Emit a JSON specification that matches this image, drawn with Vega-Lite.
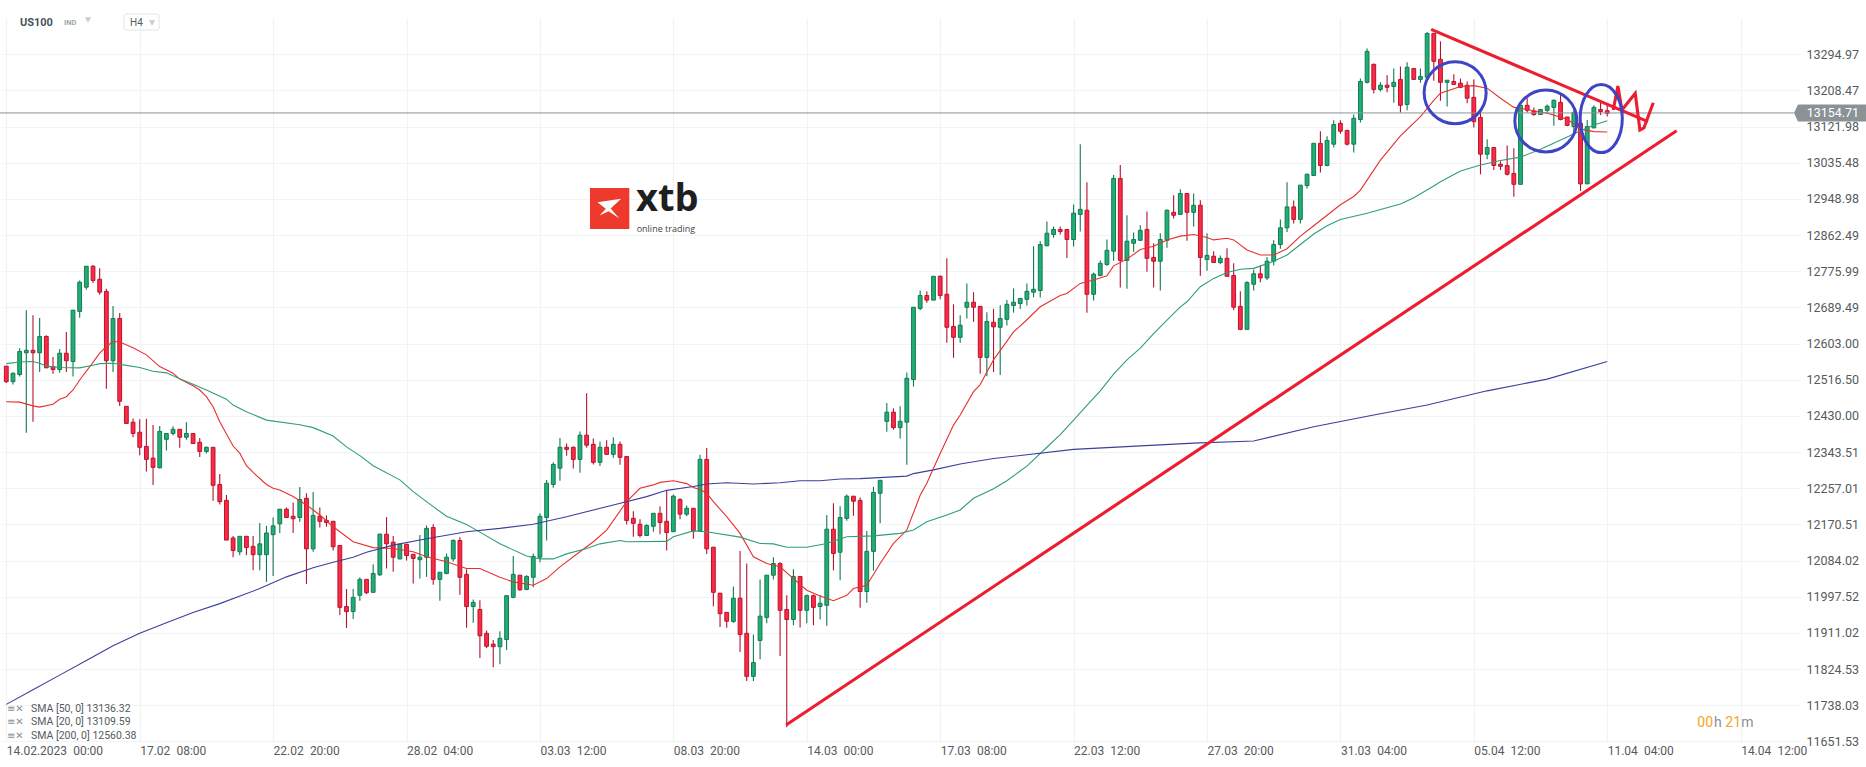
{
"$schema":"https://vega.github.io/schema/vega-lite/v6.json",
"width":1798,"height":724,
"autosize":"none",
"padding":{"left":2,"top":18,"right":66,"bottom":25},
"background":"white",
"config":{"view":{"stroke":null},"font":"Roboto"},
"datasets":{
"candles":[
{"i":0,"o":12549,"h":12549,"l":12509,"c":12512},{"i":1,"o":12512,"h":12534,"l":12505,"c":12532},{"i":2,"o":12529,"h":12592,"l":12524,"c":12584},{"i":3,"o":12581,"h":12683,"l":12390,"c":12587},{"i":4,"o":12587,"h":12671,"l":12416,"c":12581},{"i":5,"o":12581,"h":12664,"l":12535,"c":12620},{"i":6,"o":12620,"h":12623,"l":12545,"c":12545},{"i":7,"o":12548,"h":12571,"l":12531,"c":12541},{"i":8,"o":12541,"h":12590,"l":12533,"c":12580},{"i":9,"o":12580,"h":12631,"l":12535,"c":12562},
{"i":10,"o":12560,"h":12683,"l":12524,"c":12683},{"i":11,"o":12680,"h":12754,"l":12665,"c":12750},{"i":12,"o":12738,"h":12788,"l":12732,"c":12788},{"i":13,"o":12788,"h":12791,"l":12748,"c":12754},{"i":14,"o":12757,"h":12783,"l":12720,"c":12726},{"i":15,"o":12728,"h":12734,"l":12495,"c":12562},{"i":16,"o":12562,"h":12693,"l":12535,"c":12663},{"i":17,"o":12663,"h":12676,"l":12454,"c":12465},{"i":18,"o":12453,"h":12454,"l":12412,"c":12412},{"i":19,"o":12415,"h":12424,"l":12379,"c":12388},
{"i":20,"o":12391,"h":12422,"l":12336,"c":12355},{"i":21,"o":12357,"h":12423,"l":12297,"c":12326},{"i":22,"o":12329,"h":12408,"l":12265,"c":12307},{"i":23,"o":12306,"h":12406,"l":12304,"c":12393},{"i":24,"o":12374,"h":12388,"l":12347,"c":12388},{"i":25,"o":12388,"h":12405,"l":12383,"c":12398},{"i":26,"o":12398,"h":12398,"l":12354,"c":12379},{"i":27,"o":12379,"h":12415,"l":12373,"c":12388},{"i":28,"o":12388,"h":12388,"l":12364,"c":12364},{"i":29,"o":12367,"h":12377,"l":12332,"c":12345},
{"i":30,"o":12345,"h":12357,"l":12340,"c":12355},{"i":31,"o":12355,"h":12355,"l":12227,"c":12264},{"i":32,"o":12266,"h":12291,"l":12218,"c":12225},{"i":33,"o":12228,"h":12241,"l":12133,"c":12133},{"i":34,"o":12138,"h":12143,"l":12092,"c":12108},{"i":35,"o":12105,"h":12142,"l":12097,"c":12142},{"i":36,"o":12142,"h":12142,"l":12097,"c":12115},{"i":37,"o":12118,"h":12143,"l":12061,"c":12098},{"i":38,"o":12098,"h":12174,"l":12061,"c":12124},{"i":39,"o":12098,"h":12167,"l":12033,"c":12150},
{"i":40,"o":12146,"h":12187,"l":12047,"c":12167},{"i":41,"o":12172,"h":12207,"l":12150,"c":12207},{"i":42,"o":12207,"h":12211,"l":12187,"c":12187},{"i":43,"o":12190,"h":12223,"l":12150,"c":12184},{"i":44,"o":12187,"h":12260,"l":12177,"c":12230},{"i":45,"o":12233,"h":12245,"l":12028,"c":12112},{"i":46,"o":12112,"h":12248,"l":12105,"c":12192},{"i":47,"o":12190,"h":12211,"l":12163,"c":12178},{"i":48,"o":12180,"h":12192,"l":12165,"c":12175},{"i":49,"o":12178,"h":12178,"l":12108,"c":12117},
{"i":50,"o":12120,"h":12120,"l":11954,"c":11972},{"i":51,"o":11974,"h":12016,"l":11923,"c":11962},{"i":52,"o":11962,"h":12016,"l":11944,"c":11996},{"i":53,"o":12001,"h":12044,"l":11988,"c":12039},{"i":54,"o":12039,"h":12039,"l":12004,"c":12007},{"i":55,"o":12008,"h":12075,"l":12008,"c":12053},{"i":56,"o":12050,"h":12149,"l":12047,"c":12147},{"i":57,"o":12147,"h":12188,"l":12065,"c":12124},{"i":58,"o":12128,"h":12143,"l":12057,"c":12092},{"i":59,"o":12088,"h":12125,"l":12087,"c":12123},
{"i":60,"o":12123,"h":12123,"l":12084,"c":12096},{"i":61,"o":12099,"h":12099,"l":12029,"c":12089},{"i":62,"o":12086,"h":12145,"l":12041,"c":12092},{"i":63,"o":12092,"h":12168,"l":12045,"c":12161},{"i":64,"o":12163,"h":12171,"l":12026,"c":12039},{"i":65,"o":12039,"h":12056,"l":11988,"c":12056},{"i":66,"o":12053,"h":12101,"l":12051,"c":12092},{"i":67,"o":12088,"h":12135,"l":12082,"c":12132},{"i":68,"o":12132,"h":12140,"l":12002,"c":12044},{"i":69,"o":12051,"h":12063,"l":11923,"c":11974},
{"i":70,"o":11974,"h":11991,"l":11935,"c":11984},{"i":71,"o":11967,"h":11989,"l":11851,"c":11904},{"i":72,"o":11910,"h":11917,"l":11875,"c":11879},{"i":73,"o":11884,"h":11894,"l":11829,"c":11878},{"i":74,"o":11878,"h":11915,"l":11836,"c":11898},{"i":75,"o":11895,"h":12000,"l":11870,"c":12000},{"i":76,"o":11996,"h":12095,"l":11994,"c":12051},{"i":77,"o":12049,"h":12049,"l":12012,"c":12014},{"i":78,"o":12015,"h":12049,"l":12013,"c":12046},{"i":79,"o":12044,"h":12101,"l":12020,"c":12094},
{"i":80,"o":12092,"h":12197,"l":12080,"c":12190},{"i":81,"o":12187,"h":12277,"l":12132,"c":12269},{"i":82,"o":12266,"h":12319,"l":12258,"c":12314},{"i":83,"o":12305,"h":12377,"l":12275,"c":12355},{"i":84,"o":12355,"h":12364,"l":12335,"c":12350},{"i":85,"o":12355,"h":12357,"l":12304,"c":12326},{"i":86,"o":12326,"h":12393,"l":12294,"c":12384},{"i":87,"o":12384,"h":12484,"l":12354,"c":12360},{"i":88,"o":12362,"h":12376,"l":12314,"c":12319},{"i":89,"o":12319,"h":12369,"l":12310,"c":12355},
{"i":90,"o":12355,"h":12372,"l":12338,"c":12338},{"i":91,"o":12338,"h":12379,"l":12330,"c":12362},{"i":92,"o":12362,"h":12369,"l":12313,"c":12331},{"i":93,"o":12333,"h":12333,"l":12170,"c":12180},{"i":94,"o":12185,"h":12202,"l":12141,"c":12173},{"i":95,"o":12171,"h":12183,"l":12139,"c":12144},{"i":96,"o":12144,"h":12171,"l":12143,"c":12168},{"i":97,"o":12166,"h":12197,"l":12153,"c":12197},{"i":98,"o":12197,"h":12214,"l":12147,"c":12175},{"i":99,"o":12178,"h":12252,"l":12108,"c":12151},
{"i":100,"o":12153,"h":12242,"l":12153,"c":12238},{"i":101,"o":12230,"h":12233,"l":12183,"c":12195},{"i":102,"o":12195,"h":12216,"l":12190,"c":12209},{"i":103,"o":12209,"h":12209,"l":12136,"c":12155},{"i":104,"o":12155,"h":12337,"l":12153,"c":12326},{"i":105,"o":12326,"h":12353,"l":12100,"c":12112},{"i":106,"o":12116,"h":12116,"l":11975,"c":12008},{"i":107,"o":12006,"h":12006,"l":11925,"c":11957},{"i":108,"o":11960,"h":11960,"l":11923,"c":11939},{"i":109,"o":11938,"h":12022,"l":11935,"c":11994},
{"i":110,"o":11994,"h":12107,"l":11865,"c":11907},{"i":111,"o":11910,"h":12077,"l":11796,"c":11807},{"i":112,"o":11807,"h":11907,"l":11796,"c":11840},{"i":113,"o":11893,"h":12039,"l":11848,"c":11951},{"i":114,"o":11948,"h":12049,"l":11934,"c":12049},{"i":115,"o":12049,"h":12092,"l":12039,"c":12077},{"i":116,"o":12077,"h":12080,"l":11856,"c":11965},{"i":117,"o":11967,"h":12001,"l":11685,"c":11943},{"i":118,"o":11943,"h":12063,"l":11929,"c":12046},{"i":119,"o":12046,"h":12046,"l":11924,"c":11965},
{"i":120,"o":11965,"h":12003,"l":11934,"c":12000},{"i":121,"o":12000,"h":12003,"l":11929,"c":11972},{"i":122,"o":11974,"h":12001,"l":11943,"c":11982},{"i":123,"o":11977,"h":12193,"l":11928,"c":12159},{"i":124,"o":12159,"h":12221,"l":12061,"c":12101},{"i":125,"o":12104,"h":12214,"l":12037,"c":12187},{"i":126,"o":12185,"h":12242,"l":12179,"c":12238},{"i":127,"o":12238,"h":12238,"l":12191,"c":12226},{"i":128,"o":12228,"h":12235,"l":11971,"c":12010},{"i":129,"o":12010,"h":12155,"l":11983,"c":12106},
{"i":130,"o":12106,"h":12260,"l":12060,"c":12247},{"i":131,"o":12245,"h":12276,"l":12173,"c":12276},{"i":132,"o":12417,"h":12461,"l":12392,"c":12439},{"i":133,"o":12439,"h":12448,"l":12397,"c":12402},{"i":134,"o":12402,"h":12453,"l":12376,"c":12417},{"i":135,"o":12415,"h":12534,"l":12313,"c":12520},{"i":136,"o":12517,"h":12690,"l":12500,"c":12690},{"i":137,"o":12687,"h":12730,"l":12683,"c":12718},{"i":138,"o":12718,"h":12728,"l":12701,"c":12707},{"i":139,"o":12707,"h":12764,"l":12707,"c":12764},
{"i":140,"o":12764,"h":12766,"l":12709,"c":12718},{"i":141,"o":12721,"h":12807,"l":12605,"c":12642},{"i":142,"o":12644,"h":12697,"l":12569,"c":12618},{"i":143,"o":12618,"h":12671,"l":12605,"c":12647},{"i":144,"o":12690,"h":12747,"l":12663,"c":12702},{"i":145,"o":12702,"h":12726,"l":12655,"c":12690},{"i":146,"o":12692,"h":12692,"l":12531,"c":12570},{"i":147,"o":12570,"h":12678,"l":12525,"c":12656},{"i":148,"o":12654,"h":12686,"l":12535,"c":12643},{"i":149,"o":12642,"h":12695,"l":12528,"c":12663},
{"i":150,"o":12661,"h":12707,"l":12646,"c":12697},{"i":151,"o":12694,"h":12735,"l":12677,"c":12702},{"i":152,"o":12699,"h":12711,"l":12686,"c":12711},{"i":153,"o":12709,"h":12747,"l":12694,"c":12728},{"i":154,"o":12726,"h":12836,"l":12714,"c":12733},{"i":155,"o":12730,"h":12848,"l":12713,"c":12840},{"i":156,"o":12837,"h":12895,"l":12836,"c":12867},{"i":157,"o":12864,"h":12883,"l":12856,"c":12876},{"i":158,"o":12876,"h":12883,"l":12864,"c":12871},{"i":159,"o":12876,"h":12876,"l":12808,"c":12852},
{"i":160,"o":12852,"h":12936,"l":12835,"c":12915},{"i":161,"o":12912,"h":13080,"l":12871,"c":12924},{"i":162,"o":12922,"h":12989,"l":12677,"c":12721},{"i":163,"o":12721,"h":12773,"l":12706,"c":12769},{"i":164,"o":12766,"h":12802,"l":12764,"c":12795},{"i":165,"o":12792,"h":12852,"l":12789,"c":12826},{"i":166,"o":12824,"h":13006,"l":12801,"c":12998},{"i":167,"o":12998,"h":13030,"l":12737,"c":12802},{"i":168,"o":12802,"h":12910,"l":12734,"c":12848},{"i":169,"o":12843,"h":12869,"l":12822,"c":12852},
{"i":170,"o":12850,"h":12886,"l":12850,"c":12874},{"i":171,"o":12876,"h":12919,"l":12775,"c":12807},{"i":172,"o":12809,"h":12843,"l":12737,"c":12800},{"i":173,"o":12800,"h":12867,"l":12730,"c":12852},{"i":174,"o":12850,"h":12924,"l":12832,"c":12922},{"i":175,"o":12917,"h":12958,"l":12902,"c":12910},{"i":176,"o":12912,"h":12972,"l":12912,"c":12962},{"i":177,"o":12962,"h":12962,"l":12849,"c":12917},{"i":178,"o":12917,"h":12962,"l":12883,"c":12934},{"i":179,"o":12934,"h":12946,"l":12765,"c":12809},
{"i":180,"o":12804,"h":12867,"l":12777,"c":12814},{"i":181,"o":12812,"h":12824,"l":12797,"c":12797},{"i":182,"o":12797,"h":12814,"l":12793,"c":12807},{"i":183,"o":12807,"h":12831,"l":12764,"c":12764},{"i":184,"o":12766,"h":12795,"l":12683,"c":12690},{"i":185,"o":12692,"h":12728,"l":12635,"c":12637},{"i":186,"o":12637,"h":12752,"l":12637,"c":12749},{"i":187,"o":12745,"h":12780,"l":12730,"c":12770},{"i":188,"o":12770,"h":12790,"l":12750,"c":12760},{"i":189,"o":12760,"h":12810,"l":12755,"c":12800},
{"i":190,"o":12800,"h":12850,"l":12790,"c":12840},{"i":191,"o":12840,"h":12900,"l":12830,"c":12880},{"i":192,"o":12880,"h":12989,"l":12870,"c":12930},{"i":193,"o":12930,"h":12945,"l":12890,"c":12900},{"i":194,"o":12900,"h":12982,"l":12890,"c":12982},{"i":195,"o":12981,"h":13010,"l":12974,"c":13008},{"i":196,"o":13005,"h":13082,"l":13005,"c":13082},{"i":197,"o":13082,"h":13111,"l":13012,"c":13029},{"i":198,"o":13029,"h":13099,"l":13027,"c":13089},{"i":199,"o":13080,"h":13137,"l":13072,"c":13127},
{"i":200,"o":13130,"h":13137,"l":13105,"c":13111},{"i":201,"o":13113,"h":13113,"l":13077,"c":13080},{"i":202,"o":13080,"h":13151,"l":13060,"c":13142},{"i":203,"o":13139,"h":13237,"l":13132,"c":13230},{"i":204,"o":13228,"h":13309,"l":13225,"c":13302},{"i":205,"o":13271,"h":13273,"l":13201,"c":13211},{"i":206,"o":13211,"h":13228,"l":13206,"c":13221},{"i":207,"o":13221,"h":13245,"l":13204,"c":13216},{"i":208,"o":13218,"h":13261,"l":13179,"c":13228},{"i":209,"o":13235,"h":13266,"l":13156,"c":13173},
{"i":210,"o":13175,"h":13276,"l":13161,"c":13264},{"i":211,"o":13261,"h":13261,"l":13235,"c":13235},{"i":212,"o":13235,"h":13261,"l":13227,"c":13242},{"i":213,"o":13240,"h":13348,"l":13240,"c":13345},{"i":214,"o":13345,"h":13345,"l":13232,"c":13278},{"i":215,"o":13283,"h":13326,"l":13184,"c":13228},{"i":216,"o":13228,"h":13233,"l":13170,"c":13233},{"i":217,"o":13230,"h":13247,"l":13223,"c":13223},{"i":218,"o":13226,"h":13237,"l":13214,"c":13216},{"i":219,"o":13221,"h":13230,"l":13178,"c":13190},
{"i":220,"o":13192,"h":13235,"l":13120,"c":13134},{"i":221,"o":13144,"h":13163,"l":13008,"c":13056},{"i":222,"o":13056,"h":13092,"l":13044,"c":13072},{"i":223,"o":13072,"h":13072,"l":13018,"c":13029},{"i":224,"o":13032,"h":13039,"l":13018,"c":13027},{"i":225,"o":13029,"h":13077,"l":13005,"c":13008},{"i":226,"o":13010,"h":13070,"l":12954,"c":12984},{"i":227,"o":12984,"h":13173,"l":12984,"c":13173},{"i":228,"o":13173,"h":13190,"l":13156,"c":13161},{"i":229,"o":13159,"h":13168,"l":13148,"c":13151},
{"i":230,"o":13151,"h":13163,"l":13151,"c":13163},{"i":231,"o":13161,"h":13175,"l":13154,"c":13171},{"i":232,"o":13168,"h":13187,"l":13124,"c":13185},{"i":233,"o":13180,"h":13202,"l":13137,"c":13139},{"i":234,"o":13145,"h":13145,"l":13123,"c":13125},{"i":235,"o":13122,"h":13163,"l":13102,"c":13156},{"i":236,"o":13130,"h":13146,"l":12968,"c":12985},{"i":237,"o":12985,"h":13138,"l":12985,"c":13122},{"i":238,"o":13119,"h":13173,"l":13118,"c":13168},{"i":239,"o":13163,"h":13180,"l":13150,"c":13158},{"i":240,"o":13160,"h":13174,"l":13146,"c":13154}
],
"sma":[
{"s":"20","i":0,"v":12464},{"s":"20","i":2,"v":12463},{"s":"20","i":4,"v":12454},{"s":"20","i":5,"v":12451},{"s":"20","i":7,"v":12458},{"s":"20","i":8,"v":12470},{"s":"20","i":9,"v":12476},{"s":"20","i":10,"v":12492},{"s":"20","i":11,"v":12516},{"s":"20","i":13,"v":12558},{"s":"20","i":14,"v":12580},{"s":"20","i":15,"v":12596},{"s":"20","i":16,"v":12608},{"s":"20","i":17,"v":12607},{"s":"20","i":19,"v":12593},{"s":"20","i":21,"v":12576},{"s":"20","i":23,"v":12548},{"s":"20","i":25,"v":12532},{"s":"20","i":26,"v":12518},{"s":"20","i":28,"v":12502},{"s":"20","i":29,"v":12492},{"s":"20","i":30,"v":12476},{"s":"20","i":31,"v":12452},{"s":"20","i":32,"v":12416},{"s":"20","i":34,"v":12358},{"s":"20","i":35,"v":12341},{"s":"20","i":36,"v":12311},{"s":"20","i":37,"v":12295},{"s":"20","i":39,"v":12266},{"s":"20","i":40,"v":12257},{"s":"20","i":41,"v":12253},{"s":"20","i":43,"v":12237},{"s":"20","i":45,"v":12217},{"s":"20","i":47,"v":12193},{"s":"20","i":49,"v":12165},{"s":"20","i":50,"v":12153},{"s":"20","i":52,"v":12129},{"s":"20","i":55,"v":12115},{"s":"20","i":58,"v":12113},{"s":"20","i":61,"v":12105},{"s":"20","i":63,"v":12093},{"s":"20","i":66,"v":12081},{"s":"20","i":69,"v":12065},{"s":"20","i":71,"v":12065},{"s":"20","i":74,"v":12044},{"s":"20","i":76,"v":12033},{"s":"20","i":79,"v":12025},{"s":"20","i":81,"v":12041},{"s":"20","i":83,"v":12069},{"s":"20","i":86,"v":12105},{"s":"20","i":88,"v":12129},{"s":"20","i":90,"v":12157},{"s":"20","i":93,"v":12225},{"s":"20","i":95,"v":12257},{"s":"20","i":97,"v":12265},{"s":"20","i":98,"v":12271},{"s":"20","i":100,"v":12275},{"s":"20","i":102,"v":12268},{"s":"20","i":103,"v":12259},{"s":"20","i":104,"v":12254},{"s":"20","i":105,"v":12245},{"s":"20","i":106,"v":12225},{"s":"20","i":108,"v":12189},{"s":"20","i":110,"v":12149},{"s":"20","i":112,"v":12093},{"s":"20","i":114,"v":12077},{"s":"20","i":116,"v":12069},{"s":"20","i":118,"v":12041},{"s":"20","i":120,"v":12013},{"s":"20","i":122,"v":11999},{"s":"20","i":124,"v":11988},{"s":"20","i":126,"v":12001},{"s":"20","i":127,"v":12017},{"s":"20","i":129,"v":12025},{"s":"20","i":131,"v":12077},{"s":"20","i":133,"v":12125},{"s":"20","i":135,"v":12157},{"s":"20","i":137,"v":12240},{"s":"20","i":138,"v":12269},{"s":"20","i":139,"v":12305},{"s":"20","i":140,"v":12340},{"s":"20","i":142,"v":12408},{"s":"20","i":143,"v":12432},{"s":"20","i":145,"v":12488},{"s":"20","i":146,"v":12505},{"s":"20","i":147,"v":12535},{"s":"20","i":148,"v":12564},{"s":"20","i":151,"v":12631},{"s":"20","i":153,"v":12660},{"s":"20","i":155,"v":12691},{"s":"20","i":158,"v":12718},{"s":"20","i":159,"v":12723},{"s":"20","i":161,"v":12747},{"s":"20","i":163,"v":12755},{"s":"20","i":165,"v":12765},{"s":"20","i":166,"v":12789},{"s":"20","i":168,"v":12805},{"s":"20","i":170,"v":12828},{"s":"20","i":172,"v":12836},{"s":"20","i":174,"v":12851},{"s":"20","i":176,"v":12860},{"s":"20","i":178,"v":12864},{"s":"20","i":180,"v":12857},{"s":"20","i":181,"v":12851},{"s":"20","i":183,"v":12855},{"s":"20","i":184,"v":12851},{"s":"20","i":186,"v":12827},{"s":"20","i":188,"v":12815},{"s":"20","i":190,"v":12815},{"s":"20","i":192,"v":12830},{"s":"20","i":194,"v":12860},{"s":"20","i":196,"v":12885},{"s":"20","i":198,"v":12910},{"s":"20","i":200,"v":12935},{"s":"20","i":202,"v":12955},{"s":"20","i":203,"v":12970},{"s":"20","i":206,"v":13042},{"s":"20","i":209,"v":13100},{"s":"20","i":212,"v":13146},{"s":"20","i":214,"v":13185},{"s":"20","i":215,"v":13202},{"s":"20","i":218,"v":13218},{"s":"20","i":220,"v":13220},{"s":"20","i":222,"v":13214},{"s":"20","i":224,"v":13190},{"s":"20","i":226,"v":13168},{"s":"20","i":228,"v":13163},{"s":"20","i":231,"v":13154},{"s":"20","i":234,"v":13140},{"s":"20","i":236,"v":13116},{"s":"20","i":238,"v":13110},{"s":"20","i":240,"v":13109},
{"s":"50","i":0,"v":12555},{"s":"50","i":2,"v":12559},{"s":"50","i":4,"v":12560},{"s":"50","i":5,"v":12556},{"s":"50","i":6,"v":12549},{"s":"50","i":8,"v":12546},{"s":"50","i":11,"v":12545},{"s":"50","i":13,"v":12551},{"s":"50","i":14,"v":12555},{"s":"50","i":16,"v":12556},{"s":"50","i":18,"v":12551},{"s":"50","i":20,"v":12546},{"s":"50","i":22,"v":12537},{"s":"50","i":24,"v":12533},{"s":"50","i":26,"v":12519},{"s":"50","i":28,"v":12506},{"s":"50","i":30,"v":12492},{"s":"50","i":33,"v":12470},{"s":"50","i":34,"v":12456},{"s":"50","i":36,"v":12440},{"s":"50","i":39,"v":12420},{"s":"50","i":44,"v":12409},{"s":"50","i":46,"v":12402},{"s":"50","i":49,"v":12382},{"s":"50","i":51,"v":12356},{"s":"50","i":53,"v":12335},{"s":"50","i":55,"v":12311},{"s":"50","i":59,"v":12277},{"s":"50","i":61,"v":12249},{"s":"50","i":64,"v":12213},{"s":"50","i":66,"v":12190},{"s":"50","i":69,"v":12170},{"s":"50","i":71,"v":12152},{"s":"50","i":74,"v":12124},{"s":"50","i":78,"v":12095},{"s":"50","i":80,"v":12088},{"s":"50","i":82,"v":12088},{"s":"50","i":84,"v":12100},{"s":"50","i":87,"v":12113},{"s":"50","i":89,"v":12124},{"s":"50","i":92,"v":12132},{"s":"50","i":93,"v":12129},{"s":"50","i":99,"v":12130},{"s":"50","i":100,"v":12141},{"s":"50","i":103,"v":12155},{"s":"50","i":105,"v":12153},{"s":"50","i":110,"v":12140},{"s":"50","i":113,"v":12125},{"s":"50","i":115,"v":12124},{"s":"50","i":117,"v":12116},{"s":"50","i":120,"v":12116},{"s":"50","i":123,"v":12125},{"s":"50","i":126,"v":12141},{"s":"50","i":130,"v":12143},{"s":"50","i":134,"v":12149},{"s":"50","i":136,"v":12157},{"s":"50","i":138,"v":12177},{"s":"50","i":141,"v":12193},{"s":"50","i":143,"v":12205},{"s":"50","i":145,"v":12233},{"s":"50","i":148,"v":12256},{"s":"50","i":150,"v":12275},{"s":"50","i":153,"v":12310},{"s":"50","i":156,"v":12355},{"s":"50","i":158,"v":12385},{"s":"50","i":160,"v":12420},{"s":"50","i":162,"v":12455},{"s":"50","i":164,"v":12490},{"s":"50","i":166,"v":12530},{"s":"50","i":168,"v":12564},{"s":"50","i":170,"v":12592},{"s":"50","i":172,"v":12627},{"s":"50","i":174,"v":12659},{"s":"50","i":176,"v":12691},{"s":"50","i":177,"v":12703},{"s":"50","i":179,"v":12739},{"s":"50","i":181,"v":12759},{"s":"50","i":183,"v":12773},{"s":"50","i":185,"v":12781},{"s":"50","i":187,"v":12783},{"s":"50","i":190,"v":12800},{"s":"50","i":192,"v":12815},{"s":"50","i":194,"v":12840},{"s":"50","i":196,"v":12865},{"s":"50","i":198,"v":12885},{"s":"50","i":200,"v":12900},{"s":"50","i":204,"v":12915},{"s":"50","i":209,"v":12937},{"s":"50","i":211,"v":12952},{"s":"50","i":214,"v":12980},{"s":"50","i":215,"v":12990},{"s":"50","i":218,"v":13016},{"s":"50","i":221,"v":13030},{"s":"50","i":224,"v":13041},{"s":"50","i":227,"v":13049},{"s":"50","i":230,"v":13068},{"s":"50","i":234,"v":13097},{"s":"50","i":236,"v":13112},{"s":"50","i":238,"v":13126},{"s":"50","i":240,"v":13136},
{"s":"200","i":0,"v":11740},{"s":"200","i":4,"v":11775},{"s":"200","i":8,"v":11810},{"s":"200","i":12,"v":11845},{"s":"200","i":16,"v":11880},{"s":"200","i":20,"v":11910},{"s":"200","i":24,"v":11935},{"s":"200","i":28,"v":11960},{"s":"200","i":32,"v":11981},{"s":"200","i":38,"v":12017},{"s":"200","i":42,"v":12045},{"s":"200","i":46,"v":12067},{"s":"200","i":49,"v":12080},{"s":"200","i":52,"v":12092},{"s":"200","i":54,"v":12104},{"s":"200","i":58,"v":12121},{"s":"200","i":63,"v":12136},{"s":"200","i":69,"v":12153},{"s":"200","i":74,"v":12161},{"s":"200","i":79,"v":12171},{"s":"200","i":84,"v":12189},{"s":"200","i":91,"v":12217},{"s":"200","i":96,"v":12237},{"s":"200","i":99,"v":12252},{"s":"200","i":103,"v":12261},{"s":"200","i":105,"v":12267},{"s":"200","i":108,"v":12270},{"s":"200","i":112,"v":12267},{"s":"200","i":116,"v":12270},{"s":"200","i":119,"v":12275},{"s":"200","i":122,"v":12275},{"s":"200","i":125,"v":12279},{"s":"200","i":128,"v":12280},{"s":"200","i":135,"v":12286},{"s":"200","i":136,"v":12292},{"s":"200","i":139,"v":12301},{"s":"200","i":143,"v":12315},{"s":"200","i":148,"v":12328},{"s":"200","i":160,"v":12350},{"s":"200","i":178,"v":12365},{"s":"200","i":187,"v":12370},{"s":"200","i":196,"v":12404},{"s":"200","i":205,"v":12432},{"s":"200","i":213,"v":12456},{"s":"200","i":222,"v":12490},{"s":"200","i":231,"v":12518},{"s":"200","i":240,"v":12560}
],
"strokes":[
{"g":"up","n":0,"i":116.9,"p":11690.6},{"g":"up","n":1,"i":250.4,"p":13112.3},
{"g":"down","n":0,"i":213.6,"p":13354.8},{"g":"down","n":1,"i":246.1,"p":13133.8},
{"g":"zig","n":0,"i":240.9,"p":13161.8},{"g":"zig","n":1,"i":241.6,"p":13219.2},{"g":"zig","n":2,"i":242.2,"p":13161.8},{"g":"zig","n":3,"i":244.2,"p":13201.7},{"g":"zig","n":4,"i":244.9,"p":13113.9},{"g":"zig","n":5,"i":245.5,"p":13118.7},{"g":"zig","n":6,"i":246.9,"p":13179.2}
]
},
"data":{"name":"candles"},
"layer":[
{"mark":{"type":"rule","strokeWidth":1.1},
 "encoding":{
  "x":{"field":"i","type":"quantitative","title":null,"scale":{"domain":[-0.645,268.9],"nice":false,"zero":false,"padding":0},
   "axis":{"values":[0,20,40,60,80,100,120,140,160,180,200,220,240,260],"grid":true,"gridColor":"#f2f3f4","gridWidth":1.2,"domain":false,"ticks":false,"labelAlign":"left","labelPadding":3,"labelFontSize":12,"labelColor":"#555b60","labelFont":"Roboto","labelOverlap":false,"labelFlush":false,
    "labelExpr":"['14.02.2023\u200200:00','17.02\u200208:00','22.02\u200220:00','28.02\u200204:00','03.03\u200212:00','08.03\u200220:00','14.03\u200200:00','17.03\u200208:00','22.03\u200212:00','27.03\u200220:00','31.03\u200204:00','05.04\u200212:00','11.04\u200204:00','14.04\u200212:00'][datum.value/20]"}},
  "y":{"field":"h","type":"quantitative","title":null,"scale":{"domain":[11650.0,13381.84],"nice":false,"zero":false},
   "axis":{"orient":"right","values":[13294.97,13208.47,13121.98,13035.48,12948.98,12862.49,12775.99,12689.49,12603.00,12516.50,12430.00,12343.51,12257.01,12170.51,12084.02,11997.52,11911.02,11824.53,11738.03,11651.53],"grid":true,"gridColor":"#f2f3f4","gridWidth":1.2,"domain":false,"ticks":false,"labelPadding":6,"labelFontSize":12.5,"labelColor":"#555b60","labelFont":"Roboto","labelOverlap":false,"labelFlush":false,"labelExpr":"format(datum.value,'.2f')"}},
  "y2":{"field":"l"},
  "color":{"condition":{"test":"datum.c>=datum.o","value":"#0f7a50"},"value":"#b3122c"}}},
{"mark":{"type":"bar","orient":"vertical","width":3.8,"strokeWidth":1},
 "encoding":{
  "x":{"field":"i","type":"quantitative","axis":null},
  "y":{"field":"o","type":"quantitative","axis":null},
  "y2":{"field":"c"},
  "fill":{"condition":{"test":"datum.c>=datum.o","value":"#21ae74"},"value":"#fb2a44"},
  "stroke":{"condition":{"test":"datum.c>=datum.o","value":"#117a53"},"value":"#b8142f"}}},
{"data":{"name":"sma"},
 "mark":{"type":"line","strokeWidth":1.1},
 "encoding":{
  "x":{"field":"i","type":"quantitative","axis":null},
  "y":{"field":"v","type":"quantitative","axis":null},
  "color":{"field":"s","type":"nominal","legend":null,"scale":{"domain":["20","50","200"],"range":["#e6302f","#2f9e78","#3c3f9c"]}}}},
{"data":{"values":[{"a":-2,"b":268,"p":13154.71}]},
 "mark":{"type":"rule","color":"#8a9296","strokeWidth":1},
 "encoding":{
  "x":{"field":"a","type":"quantitative","axis":null},
  "x2":{"field":"b"},
  "y":{"field":"p","type":"quantitative","axis":null}}},
{"data":{"name":"strokes"},
 "mark":{"type":"line","color":"#ed1c2e","strokeWidth":3.1},
 "encoding":{
  "x":{"field":"i","type":"quantitative","axis":null},
  "y":{"field":"p","type":"quantitative","axis":null},
  "detail":{"field":"g"},
  "order":{"field":"n"}}},
{"data":{"values":[{"i":217.2,"p":13203.2},{"i":230.8,"p":13135.5}]},
 "mark":{"type":"point","shape":"circle","filled":false,"size":3848,"color":"#3d45c6","strokeWidth":3,"opacity":1},
 "encoding":{"x":{"field":"i","type":"quantitative","axis":null},"y":{"field":"p","type":"quantitative","axis":null}}},
{"data":{"values":[{"i":239.1,"p":13141.2}]},
 "mark":{"type":"point","shape":"M-0.62,0A0.62,1 0 1,1 0.62,0A0.62,1 0 1,1 -0.62,0Z","filled":false,"size":4624,"color":"#3d45c6","strokeWidth":3,"opacity":1},
 "encoding":{"x":{"field":"i","type":"quantitative","axis":null},"y":{"field":"p","type":"quantitative","axis":null}}},
{"data":{"values":[{"i":273.4,"p":13154.71}]},
 "mark":{"type":"point","shape":"M-1,0L-0.89,-0.236L1,-0.236L1,0.236L-0.89,0.236Z","filled":true,"size":5184,"color":"#8a9296","opacity":1},
 "encoding":{"x":{"field":"i","type":"quantitative","axis":null},"y":{"field":"p","type":"quantitative","axis":null}}},
{"data":{"values":[{"i":269.9,"p":13154.71,"t":"13154.71"}]},
 "mark":{"type":"text","align":"left","baseline":"middle","font":"Roboto","fontSize":12.5,"color":"white"},
 "encoding":{"x":{"field":"i","type":"quantitative","axis":null},"y":{"field":"p","type":"quantitative","axis":null},"text":{"field":"t"}}},
{"data":{"values":[{"i":87.5,"i2":93.4,"p":12975.2,"p2":12877}]},
 "mark":{"type":"rect","color":"#ee3a2d"},
 "encoding":{"x":{"field":"i","type":"quantitative","axis":null},"x2":{"field":"i2"},"y":{"field":"p","type":"quantitative","axis":null},"y2":{"field":"p2"}}},
{"data":{"values":[{"i":90.4,"p":12926}]},
 "mark":{"type":"point","shape":"M-0.85,-0.45L0.85,-0.7L0.1,0L0.7,0.7L-0.05,0.2L-0.7,0.5L-0.25,0.02Z","filled":true,"size":780,"color":"white","opacity":1},
 "encoding":{"x":{"field":"i","type":"quantitative","axis":null},"y":{"field":"p","type":"quantitative","axis":null}}},
{"data":{"values":[{"i":94.4,"p":12921,"t":"xtb"}]},
 "mark":{"type":"text","align":"left","baseline":"alphabetic","font":"Open Sans","fontWeight":"bold","fontSize":38,"color":"#1f1f1f"},
 "encoding":{"x":{"field":"i","type":"quantitative","axis":null},"y":{"field":"p","type":"quantitative","axis":null},"text":{"field":"t"}}},
{"data":{"values":[{"i":94.5,"p":12878,"t":"online trading"}]},
 "mark":{"type":"text","align":"left","baseline":"middle","font":"Open Sans","fontSize":9,"color":"#444444"},
 "encoding":{"x":{"field":"i","type":"quantitative","axis":null},"y":{"field":"p","type":"quantitative","axis":null},"text":{"field":"t"}}},
{"data":{"values":[{"i":2.05,"p":13369.9,"t":"US100"}]},
 "mark":{"type":"text","align":"left","baseline":"middle","font":"Roboto","fontWeight":"bold","fontSize":11,"color":"#46535c"},
 "encoding":{"x":{"field":"i","type":"quantitative","axis":null},"y":{"field":"p","type":"quantitative","axis":null},"text":{"field":"t"}}},
{"data":{"values":[{"i":8.65,"p":13369.9,"t":"IND"}]},
 "mark":{"type":"text","align":"left","baseline":"middle","font":"Roboto","fontWeight":"bold","fontSize":7.5,"color":"#9aa6ac"},
 "encoding":{"x":{"field":"i","type":"quantitative","axis":null},"y":{"field":"p","type":"quantitative","axis":null},"text":{"field":"t"}}},
{"data":{"values":[{"i":12.25,"p":13377},{"i":21.85,"p":13369.9}]},
 "mark":{"type":"point","shape":"triangle-down","filled":true,"size":40,"color":"#c8cdd0","opacity":1},
 "encoding":{"x":{"field":"i","type":"quantitative","axis":null},"y":{"field":"p","type":"quantitative","axis":null}}},
{"data":{"values":[{"i":17.65,"i2":22.9,"p":13391.4,"p2":13353.1}]},
 "mark":{"type":"rect","fill":null,"fillOpacity":0,"stroke":"#e3e5e7","strokeWidth":1,"cornerRadius":2},
 "encoding":{"x":{"field":"i","type":"quantitative","axis":null},"x2":{"field":"i2"},"y":{"field":"p","type":"quantitative","axis":null},"y2":{"field":"p2"}}},
{"data":{"values":[{"i":18.55,"p":13369.9,"t":"H4"}]},
 "mark":{"type":"text","align":"left","baseline":"middle","font":"Roboto","fontSize":10,"color":"#555b60"},
 "encoding":{"x":{"field":"i","type":"quantitative","axis":null},"y":{"field":"p","type":"quantitative","axis":null},"text":{"field":"t"}}},
{"data":{"values":[{"i":3.7,"p":11728.9,"t":"SMA [50, 0]  13136.32"},{"i":3.7,"p":11697.8,"t":"SMA [20, 0]  13109.59"},{"i":3.7,"p":11664.3,"t":"SMA [200, 0]  12560.38"}]},
 "mark":{"type":"text","align":"left","baseline":"middle","font":"Roboto","fontSize":10.5,"color":"#555b60"},
 "encoding":{"x":{"field":"i","type":"quantitative","axis":null},"y":{"field":"p","type":"quantitative","axis":null},"text":{"field":"t"}}},
{"data":{"values":[{"i":0.1,"p":11728.9,"t":"≡✕"},{"i":0.1,"p":11697.8,"t":"≡✕"},{"i":0.1,"p":11664.3,"t":"≡✕"}]},
 "mark":{"type":"text","align":"left","baseline":"middle","font":"DejaVu Sans","fontSize":10,"color":"#8a9296"},
 "encoding":{"x":{"field":"i","type":"quantitative","axis":null},"y":{"field":"p","type":"quantitative","axis":null},"text":{"field":"t"}}},
{"data":{"values":[{"i":253.5,"p":11695.4,"t":"00","k":"num"},{"i":256.0,"p":11695.4,"t":"h","k":"unit"},{"i":257.7,"p":11695.4,"t":"21","k":"num"},{"i":260.1,"p":11695.4,"t":"m","k":"unit"}]},
 "mark":{"type":"text","align":"left","baseline":"middle","font":"Roboto","fontSize":14},
 "encoding":{"x":{"field":"i","type":"quantitative","axis":null},"y":{"field":"p","type":"quantitative","axis":null},"text":{"field":"t"},
  "color":{"field":"k","type":"nominal","legend":null,"scale":{"domain":["num","unit"],"range":["#f5a623","#8a9296"]}}}}
],
"resolve":{"scale":{"color":"independent"},"axis":{"x":"independent","y":"independent"}}
}
